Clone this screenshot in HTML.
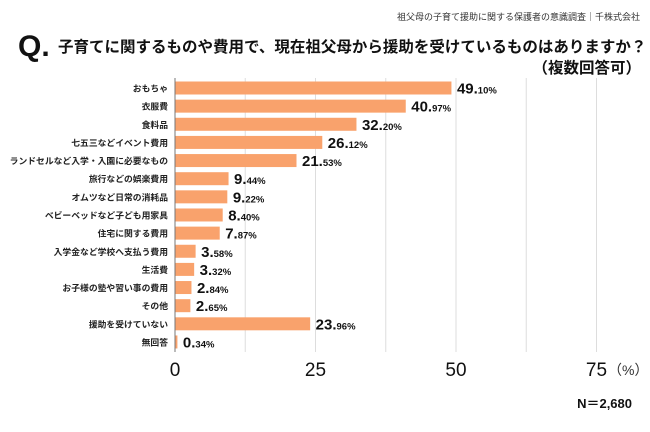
<!DOCTYPE html>
<html><head><meta charset="utf-8"><style>
body{margin:0;background:#fff;}
svg text{font-family:"Liberation Sans","Noto Sans CJK JP",sans-serif;}
</style></head><body>
<svg width="650" height="427" viewBox="0 0 650 427">
<text x="640" y="20" text-anchor="end" font-size="9" fill="#333">祖父母の子育て援助に関する保護者の意識調査｜千株式会社</text>
<text x="18" y="56" font-size="30" font-weight="bold" fill="#111">Q.</text>
<text x="58" y="52" font-size="15.5" font-weight="bold" fill="#111">子育てに関するものや費用で、現在祖父母から援助を受けているものはありますか？</text>
<text x="641" y="73" text-anchor="end" font-size="15.5" font-weight="bold" fill="#111">（複数回答可）</text>
<g id="grid"></g><g id="bars"></g><g id="ticks"></g>
<text x="608" y="375" font-size="14" fill="#333">（%）</text>
<text x="632" y="408" text-anchor="end" font-size="13" font-weight="bold" fill="#111">N＝2,680</text>
</svg>
<script>
const categories=["おもちゃ","衣服費","食料品","七五三などイベント費用","ランドセルなど入学・入園に必要なもの","旅行などの娯楽費用","オムツなど日常の消耗品","ベビーベッドなど子ども用家具","住宅に関する費用","入学金など学校へ支払う費用","生活費","お子様の塾や習い事の費用","その他","援助を受けていない","無回答"];
const values=[49.10,40.97,32.20,26.12,21.53,9.44,9.22,8.40,7.87,3.58,3.32,2.84,2.65,23.96,0.34];
const tickValues=[0,25,50,75];
const gridValues=[12.5,25,37.5,50,62.5,75];
const NS="http://www.w3.org/2000/svg";
const x=v=>175+v*5.62;
const y=i=>88+i*18.14;
function mk(t,a,p){const e=document.createElementNS(NS,t);for(const k in a)e.setAttribute(k,a[k]);p.appendChild(e);return e;}
const g=document.getElementById('grid'),b=document.getElementById('bars'),tk=document.getElementById('ticks');
gridValues.forEach(v=>{const l=mk('line',{x1:x(v),x2:x(v),y1:78,y2:352,stroke:'#ddd','stroke-width':1},g);

});
const ax=mk('line',{x1:x(0),x2:x(0),y1:78,y2:352,stroke:'#777','stroke-width':1},g);


categories.forEach((c,i)=>{
const r=mk('rect',{x:x(0)+0.5,y:y(i)-6.5,width:Math.max(values[i]*5.62,1.5),height:13,fill:'#F9A26C'},b);


const t=mk('text',{x:168,y:y(i)+3.5,'text-anchor':'end','font-size':8.8,'font-weight':'bold',fill:'#222'},b);
t.textContent=c;


const s=values[i].toFixed(2).split('.');
const vl=mk('text',{x:x(values[i])+6,y:y(i)+5.5,fill:'#111','font-weight':'bold'},b);


const a=mk('tspan',{'font-size':15},vl);a.textContent=s[0]+'.';
const d=mk('tspan',{'font-size':9.5},vl);d.textContent=s[1]+'%';
});
tickValues.forEach(v=>{const t=mk('text',{x:x(v),y:376,'text-anchor':'middle','font-size':19,fill:'#111'},tk);
t.textContent=v;

});
</script>
</body></html>
